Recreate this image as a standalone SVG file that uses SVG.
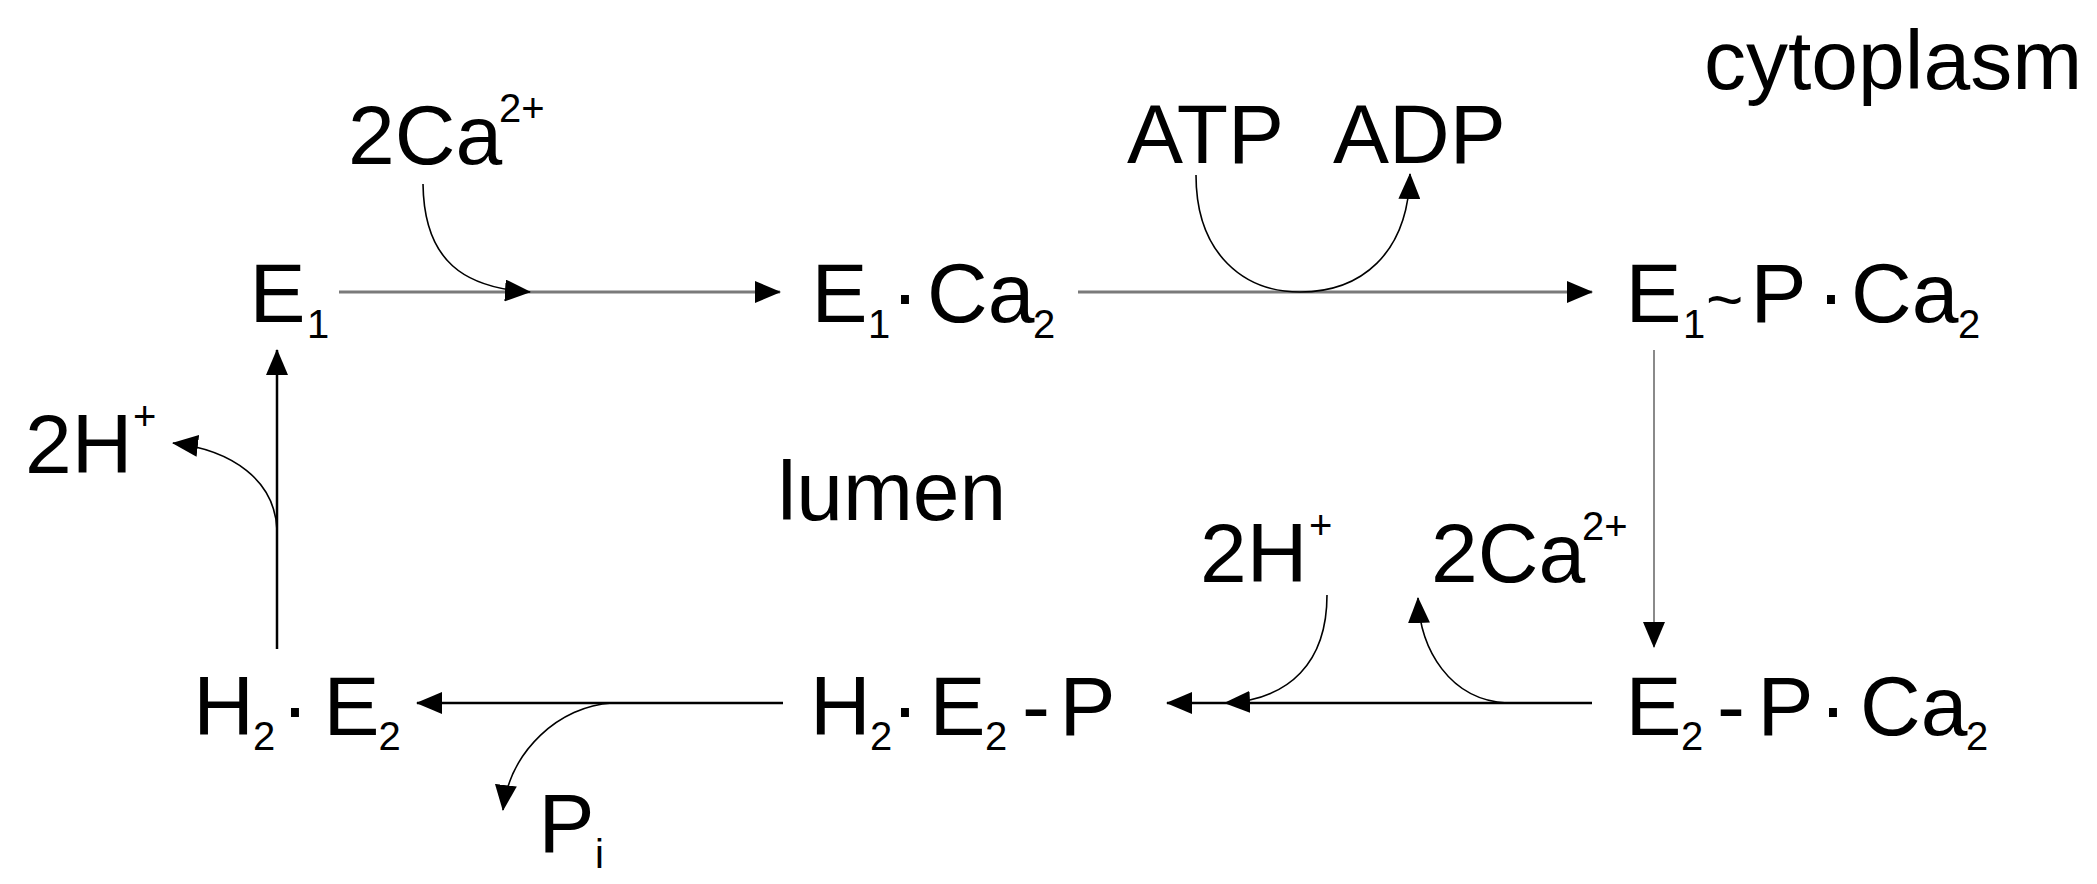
<svg xmlns="http://www.w3.org/2000/svg" width="2097" height="884" viewBox="0 0 2097 884">
<style>
  .t{font-family:"Liberation Sans",Arial,sans-serif;font-size:84px;fill:#000}
  .s{font-size:40px}
  .tl{font-size:64px}
  .main{fill:none;stroke:#000;stroke-width:2.5}
  .gray{fill:none;stroke:#7a7a7a;stroke-width:3}
  .grayv{fill:none;stroke:#8a8a8a;stroke-width:2}
  .thin{fill:none;stroke:#000;stroke-width:1.6}
</style>
<defs>
  <marker id="ah" markerUnits="userSpaceOnUse" markerWidth="26" markerHeight="22" viewBox="0 0 26 22" refX="25" refY="11" orient="auto">
    <path d="M0,0 L26,11 L0,22 z" fill="#000"/>
  </marker>
</defs>
<rect width="2097" height="884" fill="#fff"/>

<g id="connectors">
  <path class="gray" d="M339,292 H780" marker-end="url(#ah)"/>
  <path class="thin" d="M423,184 C424,262 465,288 530,292" marker-end="url(#ah)"/>
  <path class="gray" d="M1078,292 H1592" marker-end="url(#ah)"/>
  <path class="thin" d="M1196,175 C1196,255 1245,292 1300,292 C1360,292 1408,255 1410,174" marker-end="url(#ah)"/>
  <path class="grayv" d="M1654,350 V647" marker-end="url(#ah)"/>
  <path class="main" d="M1592,703 H1167" marker-end="url(#ah)"/>
  <path class="thin" d="M1327,595 C1327,662 1290,700 1225,703" marker-end="url(#ah)"/>
  <path class="thin" d="M1507,703 C1450,700 1420,650 1418,598" marker-end="url(#ah)"/>
  <path class="main" d="M783,703 H417" marker-end="url(#ah)"/>
  <path class="thin" d="M612,703 C560,706 510,750 503,810" marker-end="url(#ah)"/>
  <path class="main" d="M277,649 V350" marker-end="url(#ah)"/>
  <path class="thin" d="M277,530 C275,480 232,450 173,443" marker-end="url(#ah)"/>
</g>

<g id="ca-in">
  <text class="t"><tspan x="348" y="164">2Ca</tspan><tspan class="s" x="499" y="122">2+</tspan></text>
</g>
<g id="E1">
  <text class="t"><tspan x="249.5" y="322">E</tspan><tspan class="s" x="307" y="338">1</tspan></text>
</g>
<g id="E1Ca2">
  <text class="t"><tspan x="811.5" y="322">E</tspan><tspan class="s" x="868" y="338">1</tspan><tspan x="891" y="322">·</tspan><tspan x="927" y="322">Ca</tspan><tspan class="s" x="1033" y="338">2</tspan></text>
</g>
<g id="ATP">
  <text class="t" x="1127" y="163">ATP</text>
</g>
<g id="ADP">
  <text class="t" x="1333" y="163">ADP</text>
</g>
<g id="cytoplasm">
  <text class="t" x="1704" y="89">cytoplasm</text>
</g>
<g id="E1PCa2">
  <text class="t"><tspan x="1625.5" y="322">E</tspan><tspan class="s" x="1683" y="338">1</tspan><tspan class="tl" x="1706" y="322">~</tspan><tspan x="1750.5" y="322">P</tspan><tspan x="1817" y="322">·</tspan><tspan x="1851" y="322">Ca</tspan><tspan class="s" x="1958" y="338">2</tspan></text>
</g>
<g id="H-out">
  <text class="t"><tspan x="25" y="473">2H</tspan><tspan class="s" x="133" y="430">+</tspan></text>
</g>
<g id="lumen">
  <text class="t" x="777.5" y="520">lumen</text>
</g>
<g id="H-in">
  <text class="t"><tspan x="1200" y="582">2H</tspan><tspan class="s" x="1309" y="539">+</tspan></text>
</g>
<g id="ca-out">
  <text class="t"><tspan x="1431" y="582">2Ca</tspan><tspan class="s" x="1582" y="540">2+</tspan></text>
</g>
<g id="H2E2">
  <text class="t"><tspan x="193.3" y="735">H</tspan><tspan class="s" x="253" y="750">2</tspan><tspan x="281" y="735">·</tspan><tspan x="323.5" y="735">E</tspan><tspan class="s" x="378.5" y="750">2</tspan></text>
</g>
<g id="H2E2P">
  <text class="t"><tspan x="810" y="735">H</tspan><tspan class="s" x="870" y="750">2</tspan><tspan x="891" y="735">·</tspan><tspan x="929.5" y="735">E</tspan><tspan class="s" x="985" y="750">2</tspan><tspan x="1022" y="735">-</tspan><tspan x="1059.5" y="735">P</tspan></text>
</g>
<g id="E2PCa2">
  <text class="t"><tspan x="1625.5" y="735">E</tspan><tspan class="s" x="1681" y="750">2</tspan><tspan x="1717" y="735">-</tspan><tspan x="1757.5" y="735">P</tspan><tspan x="1819" y="735">·</tspan><tspan x="1860" y="735">Ca</tspan><tspan class="s" x="1966" y="750">2</tspan></text>
</g>
<g id="Pi">
  <text class="t"><tspan x="538.5" y="852">P</tspan><tspan class="s" x="595" y="868">i</tspan></text>
</g>
</svg>
